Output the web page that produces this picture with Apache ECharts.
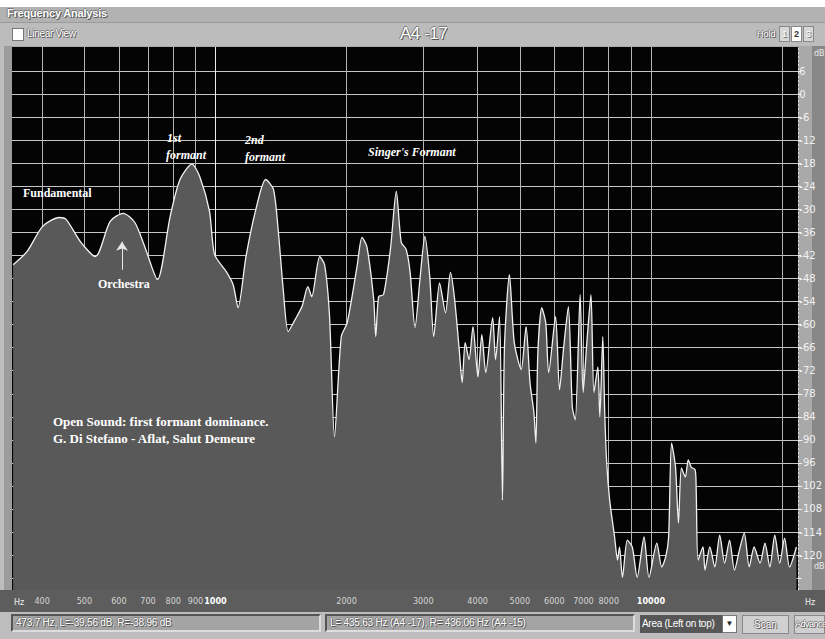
<!DOCTYPE html>
<html>
<head>
<meta charset="utf-8">
<title>Frequency Analysis</title>
<script src="https://cdn.jsdelivr.net/npm/echarts@6/dist/echarts.min.js"></script>
<style>
  html, body { margin: 0; padding: 0; }
  body { width: 825px; height: 639px; position: relative; overflow: hidden; background: #a9a9a9;
         font-family: "Liberation Sans", "DejaVu Sans", sans-serif; }
  .abs { position: absolute; }
  .shadow { color: #fff; text-shadow: 1px 1px 0 #555, -1px 0 0 #777, 0 -1px 0 #777; }
  #topWhite { left: 0; top: 0; width: 825px; height: 7px; background: #fff; }
  #titleBar { left: 0; top: 7px; width: 825px; height: 15px; background: #b2b2b2; border-bottom: 1px solid #9a9a9a; }
  #titleBar span { position: absolute; left: 7px; top: 0; font: bold 11px "Liberation Sans", sans-serif; letter-spacing: -0.2px; }
  #toolBar { left: 0; top: 23px; width: 825px; height: 23px; background: #bcbcbc; }
  #check { left: 12px; top: 5px; width: 10px; height: 11px; background: #fff; border: 1px solid #777; }
  #linear { left: 27px; top: 5px; font-size: 10px; letter-spacing: -0.3px; }
  #preset { left: 400px; top: 1px; font-size: 17px; letter-spacing: -0.5px; }
  #hold { left: 757px; top: 6px; font-size: 9px; }
  .hbox { top: 3px; width: 9px; height: 14px; background: #d8d8d8; border: 1px solid #888; font-size: 9px; text-align: center; line-height: 14px; color: #fff; text-shadow: 1px 1px 0 #666; }
  #leftStrip { left: 0; top: 46px; width: 12px; height: 566px; background: #9c9c9c; border-left: 4px solid #bdbdbd; box-sizing: border-box; }
  #rightStrip { left: 812px; top: 46px; width: 13px; height: 544px; background: #888; }
  #axisStrip { left: 0; top: 590px; width: 825px; height: 22px; background: #5d5d5d; }
  #statusBar { left: 0; top: 612px; width: 825px; height: 27px; background: #bdbdbd; }
  .field { top: 2px; height: 18px; background: #a4a4a4; border: 2px solid #555; border-right-color: #ddd; border-bottom-color: #ddd;
           box-sizing: border-box; font-size: 10px; line-height: 14px; padding-left: 3px; letter-spacing: -0.2px; }
  #combo { left: 640px; top: 3px; width: 82px; height: 18px; background: #565656; color: #fff; font-size: 10px; line-height: 18px; padding-left: 2px; box-sizing: border-box; letter-spacing: -0.3px; white-space: nowrap; }
  #comboBtn { left: 722px; top: 3px; width: 15px; height: 18px; background: #fff; border: 1px solid #777; box-sizing: border-box; font-size: 8px; text-align: center; line-height: 16px; color: #222; }
  .btn { top: 3px; height: 19px; background: #d0d0d0; border: 1px solid #888; box-sizing: border-box; font-size: 10px; text-align: center; line-height: 17px; }
  #chart { position: absolute; left: 0; top: 0; width: 825px; height: 639px; }
</style>
</head>
<body>
<div id="topWhite" class="abs"></div>
<div id="titleBar" class="abs"><span class="shadow">Frequency Analysis</span></div>
<div id="toolBar" class="abs">
  <div id="check" class="abs"></div>
  <div id="linear" class="abs shadow">Linear View</div>
  <div id="preset" class="abs shadow">A4 -17</div>
  <div id="hold" class="abs shadow">Hold</div>
  <div class="abs hbox" style="left:779px">1</div>
  <div class="abs hbox" style="left:791px;background:#fff;color:#333;text-shadow:none;font-weight:bold">2</div>
  <div class="abs hbox" style="left:803px">3</div>
</div>
<div id="leftStrip" class="abs"></div>
<div id="rightStrip" class="abs"></div>
<div id="axisStrip" class="abs"></div>
<div id="statusBar" class="abs">
  <div class="abs field shadow" style="left:11px;width:310px">473.7 Hz, L=-39.56 dB, R=-38.96 dB</div>
  <div class="abs field shadow" style="left:325px;width:310px">L= 435.63 Hz (A4 -17), R= 436.06 Hz (A4 -15)</div>
  <div id="combo" class="abs">Area (Left on top)</div>
  <div id="comboBtn" class="abs">&#9660;</div>
  <div class="abs btn shadow" style="left:742px;width:47px">Scan</div>
  <div class="abs btn shadow" style="left:794px;width:31px;font-size:9px;letter-spacing:-0.5px">Advance</div>
</div>
<div id="chart"></div>

<script>
// spectrum (left channel)
const freqHz = [
  343, 369, 401, 438, 454, 491, 530, 573, 614, 653, 688, 736, 787, 829, 883, 920, 969, 995,
  1059, 1098, 1127, 1175, 1238, 1304, 1359, 1395, 1431, 1469, 1523, 1580, 1630, 1664, 1735, 1781,
  1828, 1876, 1945, 2007, 2114, 2170, 2227, 2309, 2334, 2370, 2432, 2522, 2602, 2671, 2741, 2799,
  2872, 2948, 3026, 3105, 3171, 3271, 3375, 3464, 3536, 3629, 3686, 3745, 3823, 3903, 4006, 4090,
  4176, 4331, 4398, 4491, 4561, 4610, 4732, 4855, 5035, 5168, 5276, 5387, 5443, 5500, 5615, 5734,
  5824, 6040, 6167, 6297, 6462, 6598, 6702, 6878, 6986, 7134, 7283, 7398, 7553, 7632, 7753, 7833,
  7915, 8040, 8252, 8382, 8469, 8602, 8828, 9061, 9299, 9643, 9897, 10316, 10588, 10811, 10981,
  11154, 11389, 11568, 11749, 11995, 12183, 12375, 12635, 12701, 12834, 13170, 13308, 13657, 14017,
  14387, 14766, 15156, 15555, 15966, 16384, 16816, 17258, 17807, 18276, 18755, 19249, 19757, 20277,
  20811, 21584
];
const levelDb = [
  -44.4, -41.0, -34.4, -32.1, -32.6, -38.6, -42.3, -33.1, -31.0, -33.4, -39.7, -48.3, -31.8, -22.2, -18.2, -21.4, -30.5, -41.7,
  -46.2, -49.6, -55.6, -42.3, -30.0, -22.2, -24.8, -36.0, -50.9, -61.8, -58.7, -55.3, -50.1, -52.7, -42.3, -44.4,
  -57.9, -89.2, -63.1, -59.5, -44.9, -37.3, -39.7, -53.5, -63.1, -52.7, -52.2, -40.4, -25.3, -38.6, -40.4, -46.4,
  -60.8, -48.3, -37.0, -47.5, -63.1, -49.1, -56.9, -46.4, -52.7, -66.5, -75.1, -64.7, -69.1, -60.5, -73.6, -62.6,
  -72.5, -58.2, -69.1, -57.9, -105.7, -65.7, -47.0, -64.7, -71.7, -60.5, -75.1, -83.0, -90.8, -67.3, -55.6, -59.5,
  -72.5, -57.9, -77.0, -66.5, -55.3, -81.4, -84.8, -52.2, -77.7, -63.9, -52.2, -77.7, -71.0, -84.0, -63.1, -83.0,
  -96.0, -105.7, -115.3, -121.3, -117.9, -125.8, -116.1, -117.9, -125.8, -115.3, -125.8, -116.9, -123.1, -120.5, -115.3,
  -90.8, -97.1, -111.7, -97.3, -99.7, -95.2, -97.1, -97.8, -102.3, -121.3, -117.9, -123.9, -117.9, -123.1,
  -114.8, -122.1, -116.1, -123.9, -118.7, -114.3, -123.1, -117.9, -122.1, -116.9, -123.1, -114.8, -122.1, -115.6,
  -123.1, -117.9
];

const xTickHz = [400, 500, 600, 700, 800, 900, 1000, 2000, 3000, 4000, 5000, 6000, 7000, 8000, 9000, 10000, 20000];
const xLabelHz = [400, 500, 600, 700, 800, 900, 1000, 2000, 3000, 4000, 5000, 6000, 7000, 8000, 10000];
const yTickDb = [6, 0, -6, -12, -18, -24, -30, -36, -42, -48, -54, -60, -66, -72, -78, -84, -90, -96, -102, -108, -114, -120, -126];
const yLabelDb = [6, 0, -6, -12, -18, -24, -30, -36, -42, -48, -54, -60, -66, -72, -78, -84, -90, -96, -102, -108, -114, -120];

const chart = echarts.init(document.getElementById('chart'), null, { renderer: 'svg' });

const serif = '"Liberation Serif", "DejaVu Serif", serif';
const note = (x, y, text, italic, size) => ({
  type: 'text', left: x, top: y, z: 20, silent: true,
  style: { text, fill: '#fff', font: (italic ? 'italic ' : '') + 'bold ' + (size || 12) + 'px ' + serif }
});
const axisText = (x, y, text) => ({
  type: 'text', left: x, top: y, z: 20, silent: true,
  style: { text, fill: '#eee', font: '8px "DejaVu Sans", sans-serif' }
});

const option = {
  backgroundColor: 'transparent',
  animation: false,
  grid: {
    left: 12, top: 47, right: 13, bottom: 49,
    show: true, backgroundColor: '#040404', borderWidth: 0
  },
  xAxis: {
    type: 'log',
    min: 341,
    max: 21800,
    axisLine: { show: false },
    axisTick: { show: false, customValues: xTickHz },
    splitLine: {
      show: true,
      lineStyle: {
        color: xTickHz.map(v => v === 1000 ? '#ececec' : '#b4b4b4'),
        width: 1
      }
    },
    axisLabel: {
      customValues: xLabelHz,
      margin: 6,
      fontSize: 9,
      color: '#d4d4d4',
      fontFamily: '"DejaVu Sans Condensed", sans-serif',
      formatter: v => (v === 1000 || v === 10000) ? '{b|' + v + '}' : String(v),
      rich: { b: { color: '#fff', fontWeight: 'bold', fontSize: 9, fontFamily: '"DejaVu Sans Condensed", sans-serif' } }
    }
  },
  yAxis: {
    type: 'value',
    position: 'right',
    min: -129.1,
    max: 12.3,
    axisLine: { show: true, lineStyle: { color: '#e0e0e0', type: [2, 2], width: 1 } },
    axisTick: { show: true, length: 3, customValues: yTickDb, lineStyle: { color: '#fff' } },
    splitLine: { show: true, lineStyle: { color: '#c6c6c6', width: 1 } },
    axisLabel: {
      customValues: yLabelDb,
      margin: 1,
      fontSize: 10,
      color: '#f2f2f2',
      fontFamily: '"DejaVu Sans", sans-serif'
    }
  },
  series: [
    {
      name: 'L',
      type: 'line',
      data: freqHz.map((f, i) => [f, levelDb[i]]),
      symbol: 'none',
      smooth: 0.25,
      sampling: 'none',
      lineStyle: { color: '#f2f2f2', width: 1.3 },
      areaStyle: { color: '#595959', opacity: 1, origin: 'start' },
      markLine: {
        silent: true,
        symbol: ['none', 'arrow'],
        symbolSize: 9,
        label: { show: false },
        lineStyle: { color: '#e8e8e8', width: 1, type: 'solid' },
        data: [[{ coord: [610, -45.7] }, { coord: [610, -38.4] }]]
      }
    }
  ],
  graphic: [
    note(23, 187, 'Fundamental'),
    note(98, 278, 'Orchestra'),
    note(167, 132, '1st', true),
    note(166, 149, 'formant', true),
    note(245, 134, '2nd', true),
    note(245, 151, 'formant', true),
    note(368, 146, "Singer's Formant", true),
    note(53, 415, 'Open Sound: first formant dominance.', false, 13),
    note(53, 432, 'G. Di Stefano - Aflat, Salut Demeure', false, 13),
    axisText(14, 598, 'Hz'),
    axisText(805, 598, 'Hz'),
    axisText(814, 49, 'dB'),
    axisText(814, 562, 'dB')
  ]
};

chart.setOption(option);
</script>
</body>
</html>
